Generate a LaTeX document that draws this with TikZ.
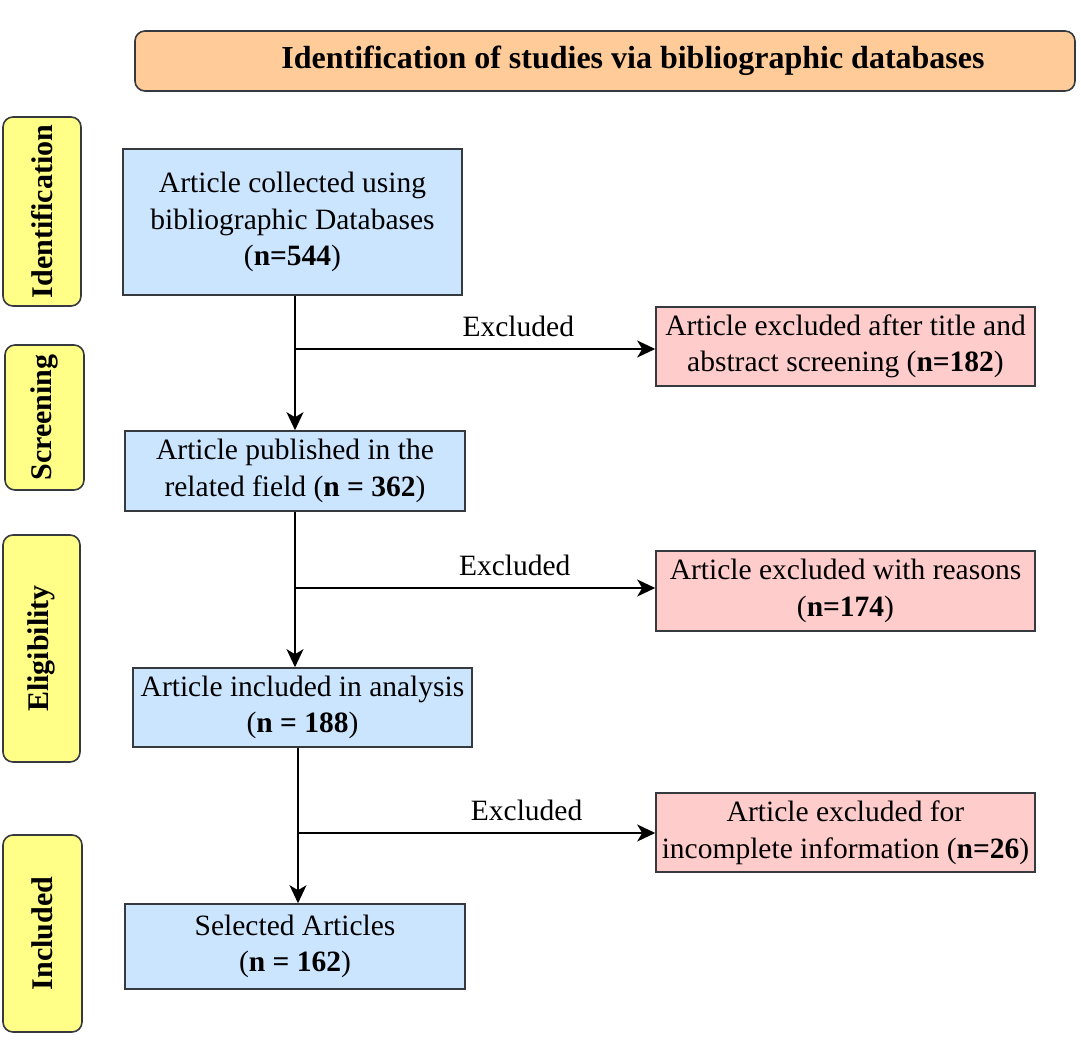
\documentclass[tikz,border=0pt]{standalone}
\usepackage{fontspec}
\setmainfont{Liberation Serif}
\usetikzlibrary{arrows.meta}
\definecolor{borde}{HTML}{36393D}
\definecolor{cabecera}{HTML}{FFCC99}
\definecolor{fase}{HTML}{FFFF88}
\definecolor{azul}{HTML}{CCE5FF}
\definecolor{rojo}{HTML}{FFCCCC}
\begin{document}
\begin{tikzpicture}[x=1pt,y=-1pt,
	txt/.style={font=\fontsize{29.5}{36.5}\selectfont},
	head/.style={draw=borde,fill=cabecera,line width=1.6pt,rounded corners=10pt,minimum width=940,minimum height=60,inner sep=0,font=\bfseries\fontsize{32}{36}\selectfont},
	phase/.style={draw=borde,fill=fase,line width=1.6pt,rounded corners=10pt,rotate=90,inner sep=0,font=\bfseries\fontsize{30}{34}\selectfont},
	box/.style={txt,draw=borde,fill=azul,line width=1.6pt,inner sep=0,align=center},
	excl/.style={txt,draw=borde,fill=rojo,line width=1.6pt,inner sep=0,align=center,minimum width=379,minimum height=79},
	flow/.style={line width=1.6pt,-{Stealth[length=18pt,width=17pt,inset=5pt]}}]

   \useasboundingbox (0,0) rectangle (1081,1048);

   %cabecera
   \node[head] (head) at (605,61) {\hspace*{56pt}Identification of studies via bibliographic databases};

   %fases
   \node[phase,minimum width=189,minimum height=78] (iden) at (42,211.5) {Identification};
   \node[phase,minimum width=145,minimum height=79] (scre) at (44.5,417.5) {Screening};
   \node[phase,minimum width=227,minimum height=77] (elig) at (41.5,648.5) {Eligibility};
   \node[phase,minimum width=197,minimum height=79] (incl) at (42.5,933.5) {Included};

   %cajas
   \node[box,minimum width=339,minimum height=146] (b1) at (292.5,222) {Article collected using\\bibliographic Databases\\(\textbf{n=544})};
   \node[box,minimum width=340,minimum height=80] (b2) at (295,471) {Article published in the\\related field (\textbf{n = 362})};
   \node[box,minimum width=339,minimum height=79] (b3) at (302.5,707.5) {Article included in analysis\\(\textbf{n = 188})};
   \node[box,minimum width=340,minimum height=85] (b4) at (295,946.5) {Selected Articles\\(\textbf{n = 162})};

   \node[excl] (r1) at (845.5,346.5) {Article excluded after title and\\abstract screening (\textbf{n=182})};
   \node[excl,minimum height=80] (r2) at (845.5,591) {Article excluded with reasons\\(\textbf{n=174})};
   \node[excl] (r3) at (845.5,832.5) {Article excluded for\\incomplete information (\textbf{n=26})};

   %flechas
   \coordinate (j1) at (295,349);
   \coordinate (j2) at (295,588);
   \coordinate (j3) at (298,833);
   \draw[flow] (b1.south -| j1) -- (b2.north -| j1);
   \draw[flow] (b2.south -| j2) -- (b3.north -| j2);
   \draw[flow] (b3.south -| j3) -- (b4.north -| j3);
   \draw[flow] (j1) -- (j1 -| r1.west) node[txt,pos=.62,above=8pt,inner sep=3pt] {Excluded};
   \draw[flow] (j2) -- (j2 -| r2.west) node[txt,pos=.61,above=8pt,inner sep=3pt] {Excluded};
   \draw[flow] (j3) -- (j3 -| r3.west) node[txt,pos=.64,above=8pt,inner sep=3pt] {Excluded};
\end{tikzpicture}
\end{document}
